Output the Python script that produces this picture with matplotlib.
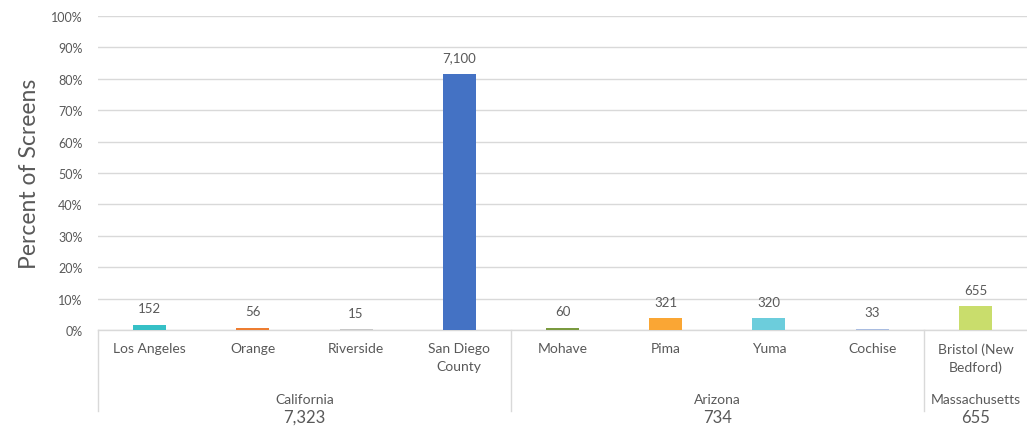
import matplotlib
matplotlib.use("Agg")
import matplotlib.pyplot as plt
from matplotlib.transforms import blended_transform_factory

plt.rcParams['font.family'] = ['Lato', 'DejaVu Sans']

counties = ["Los Angeles", "Orange", "Riverside", "San Diego\nCounty",
            "Mohave", "Pima", "Yuma", "Cochise", "Bristol (New\nBedford)"]
counts = ["152", "56", "15", "7,100", "60", "321", "320", "33", "655"]
percents = [1.7, 0.6, 0.2, 81.5, 0.7, 3.7, 3.7, 0.4, 7.5]
colors = ["#36C0C6", "#ED7D31", "#C8C8C8", "#4472C4", "#7A9A3F",
          "#FAA634", "#6CCDDC", "#A9BCE0", "#C9DD6C"]
states = ["California", "Arizona", "Massachusetts"]
state_totals = ["7,323", "734", "655"]
state_sizes = [4, 4, 1]
yticks = [0, 10, 20, 30, 40, 50, 60, 70, 80, 90, 100]

W, H = 1027, 427
fig = plt.figure(figsize=(W / 100, H / 100), dpi=100)
ax = fig.add_axes([98 / W, 1 - 331 / H, (1027 - 98) / W, (331 - 17) / H])

x = list(range(len(counties)))
ax.bar(x, percents, width=0.32, color=colors, zorder=3)
ax.set_xlim(-0.5, len(counties) - 0.5)
ax.set_ylim(0, 100)
ax.set_yticks(yticks)
ax.set_yticklabels([f"{t}%" for t in yticks], fontsize=9, color="#595959")
ax.tick_params(axis='y', length=0, pad=11)
ax.tick_params(axis='x', length=0, labelbottom=False)
ax.grid(axis='y', color="#D9D9D9", linewidth=1, zorder=0)
for s in ["left", "right", "top"]:
    ax.spines[s].set_visible(False)
ax.spines["bottom"].set_color("#D9D9D9")
ax.spines["bottom"].set_linewidth(1)

for xi, p, c in zip(x, percents, counts):
    ax.annotate(c, (xi, p), xytext=(0, 12), textcoords="offset points",
                ha="center", va="center", fontsize=9.5, color="#595959")

ax.set_ylabel("Percent of Screens", fontsize=16.5, color="#595959", labelpad=8)

trans = blended_transform_factory(ax.transData, fig.transFigure)
def fy(py):
    return 1 - py / H

for xi, name in zip(x, counties):
    ax.text(xi, fy(343), name, transform=trans, ha="center", va="top",
            fontsize=10, color="#595959", linespacing=1.6)

start = -0.5
for st, tot, n in zip(states, state_totals, state_sizes):
    end = start + n
    mid = (start + end) / 2
    ax.text(mid, fy(400), st, transform=trans, ha="center", va="center",
            fontsize=10, color="#595959")
    ax.text(mid, fy(418), tot, transform=trans, ha="center", va="center",
            fontsize=12, color="#595959")
    ax.plot([start, start], [fy(331), fy(412)], transform=trans,
            color="#D9D9D9", linewidth=1, clip_on=False)
    start = end

fig.savefig("out.png", dpi=100)
